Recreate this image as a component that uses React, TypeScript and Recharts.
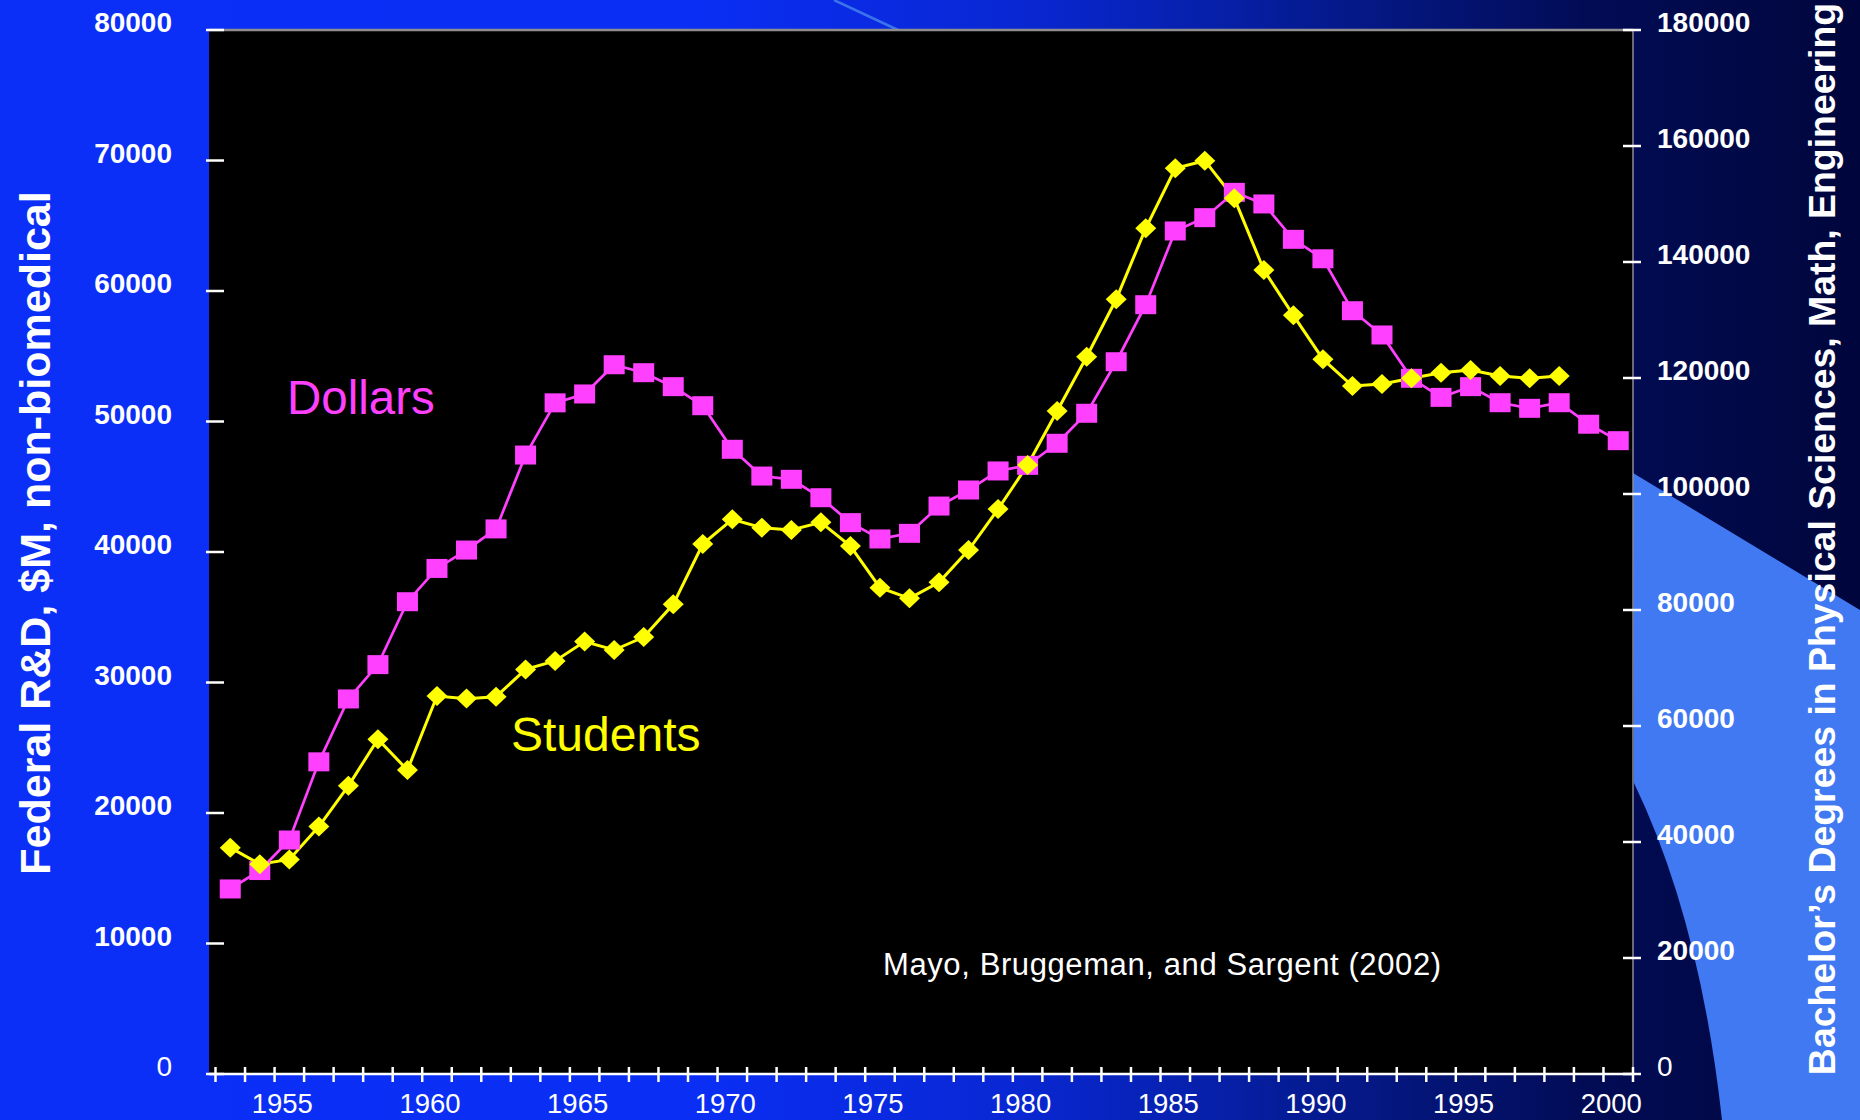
import React from 'react';
import { LineChart, Line, XAxis, YAxis, CartesianGrid, ReferenceLine } from 'recharts';

// Fiscal years shown on the category axis
const years: number[] = [
  1953, 1954, 1955, 1956, 1957, 1958, 1959, 1960, 1961, 1962, 1963, 1964,
  1965, 1966, 1967, 1968, 1969, 1970, 1971, 1972, 1973, 1974, 1975, 1976,
  1977, 1978, 1979, 1980, 1981, 1982, 1983, 1984, 1985, 1986, 1987, 1988,
  1989, 1990, 1991, 1992, 1993, 1994, 1995, 1996, 1997, 1998, 1999, 2000,
];

// Federal R&D, non-biomedical ($M) — left axis
const dollars: number[] = [
  14180, 15590, 17930, 23920, 28740, 31370, 36190, 38740, 40150, 41770, 47430, 51430,
  52110, 54350, 53740, 52670, 51210, 47870, 45820, 45570, 44160, 42250, 41000, 41430,
  43520, 44750, 46210, 46640, 48330, 50630, 54580, 58950, 64600, 65620, 67560, 66670,
  63960, 62470, 58490, 56630, 53310, 51850, 52670, 51440, 51010, 51440, 49790, 48530,
];

// Bachelor's degrees in physical sciences, math, engineering — right axis (1953–1998)
const students: number[] = [
  39030, 36170, 37000, 42670, 49690, 57720, 52410, 65170, 64720, 65050, 69760, 71220,
  74550, 73100, 75340, 80980, 91380, 95630, 94190, 93790, 95120, 91030, 83850, 82010,
  84770, 90340, 97410, 105000, 114310, 123670, 133570, 145810, 156150, 157470, 150980, 138620,
  130800, 123250, 118620, 118970, 119950, 120920, 121380, 120340, 119950, 120340,
];

const leftTicks: number[] = [0, 10000, 20000, 30000, 40000, 50000, 60000, 70000, 80000];
const rightTicks: number[] = [0, 20000, 40000, 60000, 80000, 100000, 120000, 140000, 160000, 180000];
const yearLabels: number[] = [1955, 1960, 1965, 1970, 1975, 1980, 1985, 1990, 1995, 2000];

const rows = years.map((year, i) => ({
  year,
  dollars: dollars[i],
  students: i < students.length ? students[i] : null,
}));

// tick marks sit on category boundaries, labels on category centres
const boundaryTicks: number[] = [...years.map((y) => y - 0.5), years[years.length - 1] + 0.5];
const xTicks: number[] = [...boundaryTicks, ...yearLabels].sort((a, b) => a - b);

const FONT = '"Liberation Sans", Arial, Helvetica, sans-serif';
const MAGENTA = '#ff40ff';
const YELLOW = '#ffff00';

const XTick = (props: any) => {
  const { x, y, payload } = props;
  const v = payload.value as number;
  if (Number.isInteger(v)) {
    return (
      <text x={x - 7} y={y + 39} textAnchor="middle" fill="#fff" fontFamily={FONT} fontSize={27.5}>
        {v}
      </text>
    );
  }
  return <line x1={x} x2={x} y1={y - 7} y2={y + 8} stroke="#fff" strokeWidth={2.5} />;
};

const LeftTick = (props: any) => {
  const { x, y, payload } = props;
  const v = payload.value as number;
  return (
    <g>
      <line x1={x - 3} x2={x + 15} y1={y} y2={y} stroke="#fff" strokeWidth={2.5} />
      <text
        x={x - 37}
        y={y + 2}
        textAnchor="end"
        fill="#fff"
        fontFamily={FONT}
        fontSize={28}
        fontWeight={v === 0 ? 'normal' : 'bold'}
      >
        {v}
      </text>
    </g>
  );
};

const RightTick = (props: any) => {
  const { x, y, payload } = props;
  const v = payload.value as number;
  return (
    <g>
      <line x1={x - 10} x2={x + 8} y1={y} y2={y} stroke="#fff" strokeWidth={2.5} />
      <text
        x={x + 24}
        y={y + 2}
        textAnchor="start"
        fill="#fff"
        fontFamily={FONT}
        fontSize={28}
        fontWeight={v === 0 ? 'normal' : 'bold'}
      >
        {v}
      </text>
    </g>
  );
};

const SquareDot = (props: any) => {
  const { cx, cy, index } = props;
  if (cx == null || cy == null || Number.isNaN(cy)) return <g key={`sq-${index}`} />;
  return <rect key={`sq-${index}`} x={cx - 10.5} y={cy - 9.5} width={21} height={19} fill={MAGENTA} />;
};

const DiamondDot = (props: any) => {
  const { cx, cy, index } = props;
  if (cx == null || cy == null || Number.isNaN(cy)) return <g key={`dm-${index}`} />;
  return (
    <polygon
      key={`dm-${index}`}
      points={`${cx},${cy - 10} ${cx + 10.5},${cy} ${cx},${cy + 10} ${cx - 10.5},${cy}`}
      fill={YELLOW}
    />
  );
};

export default function App() {
  return (
    <div
      style={{
        position: 'relative',
        width: 1860,
        height: 1120,
        overflow: 'hidden',
        background:
          'linear-gradient(90deg, #0b2ff7 0%, #0a2ef3 38%, #0927d2 55%, #0620aa 65%, #04167e 75%, #020c56 85%, #00063c 100%)',
      }}
    >
      <style>{'body{margin:0;}'}</style>
      {/* slide decoration behind the chart */}
      <svg width={1860} height={1120} style={{ position: 'absolute', left: 0, top: 0 }}>
        <path d="M1633,473 L1860,610 L1860,1120 L1722,1120 Q1700,920 1634,783 Z" fill="#4079f2" />
        <line x1={834} y1={0} x2={898} y2={30} stroke="#3b73ec" strokeWidth={2.5} />
      </svg>

      <div style={{ position: 'absolute', left: 0, top: 0 }}>
        <LineChart width={1860} height={1120} data={rows} margin={{ top: 30, right: 0, bottom: 0, left: 0 }}>
          <CartesianGrid yAxisId="left" horizontal={false} vertical={false} fill="#000000" stroke="none" />
          <XAxis
            dataKey="year"
            type="number"
            domain={[1952.5, 2000.5]}
            allowDataOverflow
            ticks={xTicks}
            interval={0}
            padding={{ left: 6.5, right: 0 }}
            height={46}
            axisLine={{ stroke: '#ffffff', strokeWidth: 2.5 }}
            tickLine={false}
            tickSize={0}
            tickMargin={0}
            tick={<XTick />}
          />
          <YAxis
            yAxisId="left"
            domain={[0, 80000]}
            ticks={leftTicks}
            interval={0}
            width={209}
            axisLine={false}
            tickLine={false}
            tickSize={0}
            tickMargin={0}
            tick={<LeftTick />}
          />
          <YAxis
            yAxisId="right"
            orientation="right"
            domain={[0, 180000]}
            ticks={rightTicks}
            interval={0}
            width={227}
            axisLine={{ stroke: '#8d8d9d', strokeWidth: 1.5 }}
            tickLine={false}
            tickSize={0}
            tickMargin={0}
            tick={<RightTick />}
          />
          <ReferenceLine yAxisId="left" y={80000} stroke="#8e8e8e" strokeWidth={2.5} />
          <Line
            yAxisId="left"
            type="linear"
            dataKey="dollars"
            stroke={MAGENTA}
            strokeWidth={2.7}
            dot={<SquareDot />}
            activeDot={false}
            isAnimationActive={false}
          />
          <Line
            yAxisId="right"
            type="linear"
            dataKey="students"
            stroke={YELLOW}
            strokeWidth={3}
            dot={<DiamondDot />}
            activeDot={false}
            connectNulls={false}
            isAnimationActive={false}
          />
        </LineChart>
      </div>

      {/* annotations and axis titles */}
      <svg
        width={1860}
        height={1120}
        style={{ position: 'absolute', left: 0, top: 0, pointerEvents: 'none' }}
        fontFamily={FONT}
      >
        <text x={287} y={414} fontSize={47.5} fill={MAGENTA}>
          Dollars
        </text>
        <text x={511} y={751} fontSize={48} fill={YELLOW}>
          Students
        </text>
        <text x={883} y={975} fontSize={31} fill="#ffffff" letterSpacing={0.6}>
          Mayo, Bruggeman, and Sargent (2002)
        </text>
        <text
          transform="translate(49.5,533) rotate(-90)"
          textAnchor="middle"
          fontSize={43}
          fontWeight="bold"
          fill="#ffffff"
        >
          Federal R&amp;D, $M, non-biomedical
        </text>
        <text
          transform="translate(1835,539) rotate(-90)"
          textAnchor="middle"
          fontSize={37.4}
          fontWeight="bold"
          fill="#ffffff"
        >
          Bachelor’s Degrees in Physical Sciences, Math, Engineering
        </text>
      </svg>
    </div>
  );
}
